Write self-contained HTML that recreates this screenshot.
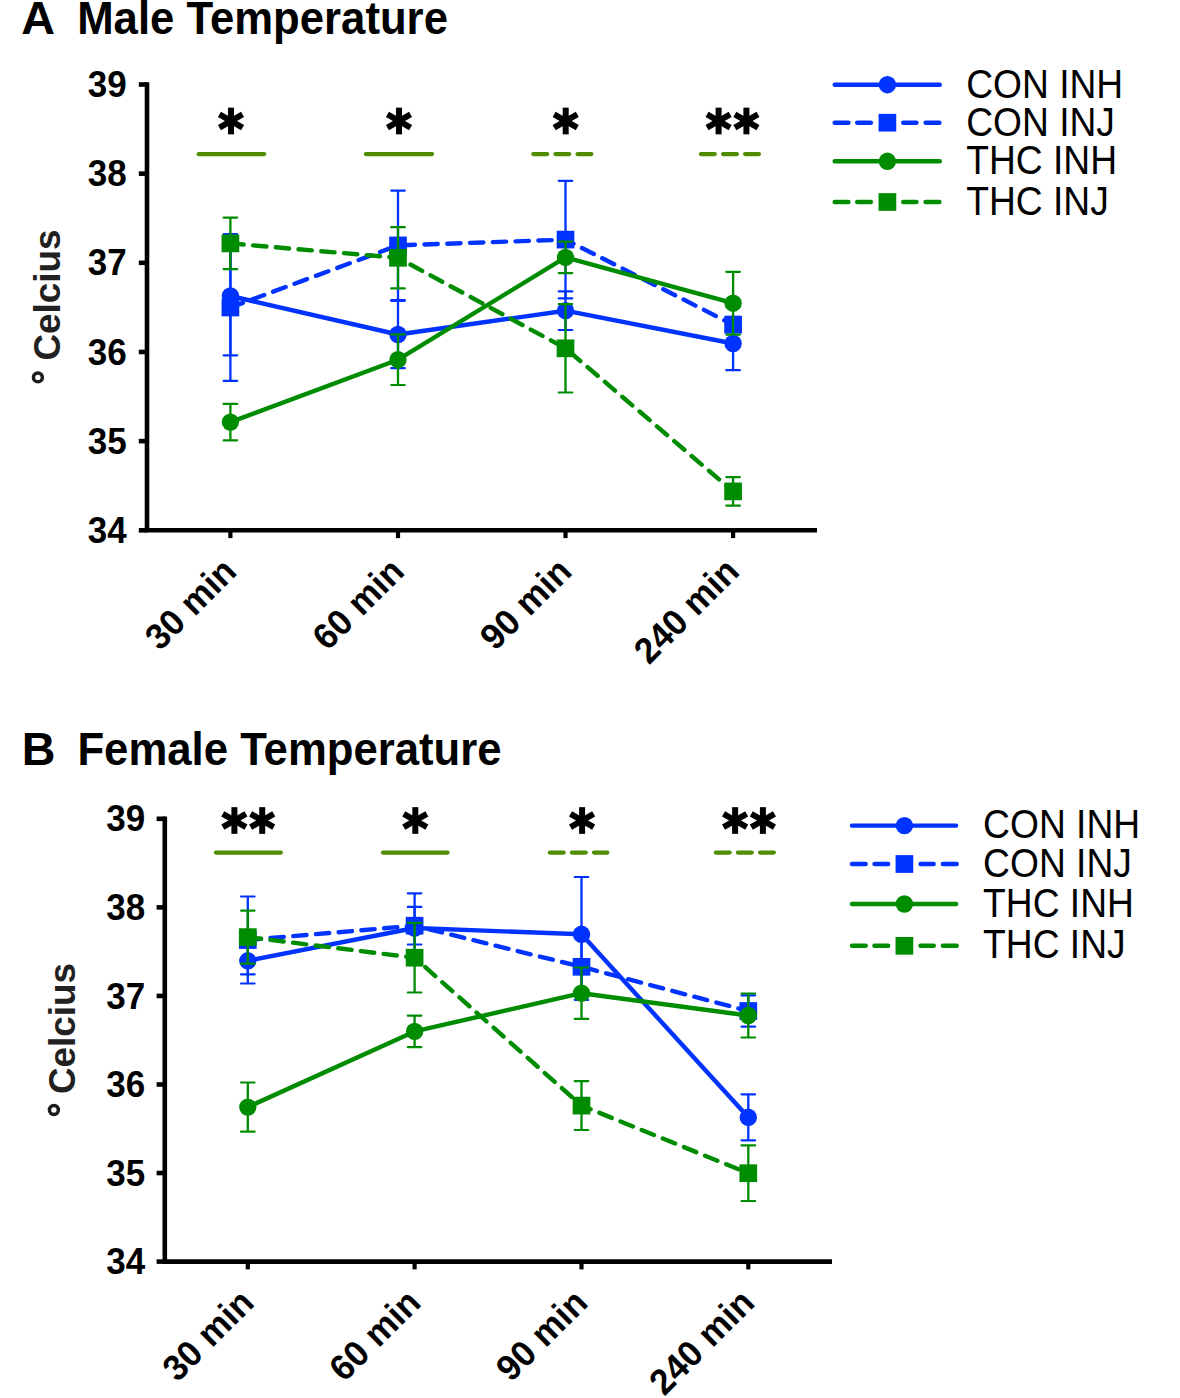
<!DOCTYPE html>
<html><head><meta charset="utf-8"><style>
html,body{margin:0;padding:0;background:#fff;}
svg{display:block;}
.title{font-family:"Liberation Sans",sans-serif;font-weight:bold;font-size:43.7px;fill:#000;}
.tick{font-family:"Liberation Sans",sans-serif;font-weight:bold;font-size:35px;fill:#000;}
.ylab{font-family:"Liberation Sans",sans-serif;font-weight:bold;font-size:37.5px;fill:#212121;}
.leg{font-family:"Liberation Sans",sans-serif;font-size:37.2px;fill:#000;}
</style></head><body>
<svg width="1180" height="1398" viewBox="0 0 1180 1398">
<rect width="1180" height="1398" fill="#fff"/>
<text class="title" transform="translate(21.2 33.9) scale(1.07 1.04)">A</text>
<text class="title" transform="translate(77.2 33.9) scale(1 1.04)">Male Temperature</text>
<g stroke="#000" stroke-width="4.6" fill="none">
<path d="M147 82.2V530.3H817"/>
<path d="M138.8 84.5H147"/>
<path d="M138.8 173.66H147"/>
<path d="M138.8 262.82H147"/>
<path d="M138.8 351.98H147"/>
<path d="M138.8 441.14H147"/>
<path d="M138.8 530.3H147"/>
<path d="M230.4 530.3V538.1" stroke-width="4.2"/>
<path d="M398 530.3V538.1" stroke-width="4.2"/>
<path d="M565.5 530.3V538.1" stroke-width="4.2"/>
<path d="M733.1 530.3V538.1" stroke-width="4.2"/>
</g>
<text class="tick" text-anchor="end" transform="translate(126.6 97.1) scale(1 1.03)">39</text>
<text class="tick" text-anchor="end" transform="translate(126.6 186.26) scale(1 1.03)">38</text>
<text class="tick" text-anchor="end" transform="translate(126.6 275.42) scale(1 1.03)">37</text>
<text class="tick" text-anchor="end" transform="translate(126.6 364.58) scale(1 1.03)">36</text>
<text class="tick" text-anchor="end" transform="translate(126.6 453.74) scale(1 1.03)">35</text>
<text class="tick" text-anchor="end" transform="translate(126.6 542.9) scale(1 1.03)">34</text>
<text class="tick" text-anchor="end" transform="translate(238.4 573.3) rotate(-45) scale(1 1.03)">30 min</text>
<text class="tick" text-anchor="end" transform="translate(406 573.3) rotate(-45) scale(1 1.03)">60 min</text>
<text class="tick" text-anchor="end" transform="translate(573.5 573.3) rotate(-45) scale(1 1.03)">90 min</text>
<text class="tick" text-anchor="end" transform="translate(741.1 573.3) rotate(-45) scale(1 1.03)">240 min</text>
<text class="ylab" text-anchor="middle" transform="translate(59.6 295.05) rotate(-90) scale(0.982 1)">Celcius</text>
<circle cx="37.9" cy="377.4" r="4.45" stroke="#1c1c1c" stroke-width="3.5" fill="none"/>
<g fill="#000"><polygon points="234,107.65 228,107.65 228,134.35 234,134.35"/><polygon points="244.06,116.92 241.06,111.73 217.94,125.08 220.94,130.27"/><polygon points="241.06,130.27 244.06,125.08 220.94,111.73 217.94,116.92"/></g>
<path d="M198.65 154.1H264.15" stroke="#4e8c00" stroke-width="4.3" stroke-linecap="round" fill="none"/>
<g fill="#000"><polygon points="402,107.65 396,107.65 396,134.35 402,134.35"/><polygon points="412.06,116.92 409.06,111.73 385.94,125.08 388.94,130.27"/><polygon points="409.06,130.27 412.06,125.08 388.94,111.73 385.94,116.92"/></g>
<path d="M365.95 154.1H432.05" stroke="#4e8c00" stroke-width="4.3" stroke-linecap="round" fill="none"/>
<g fill="#000"><polygon points="568.7,107.65 562.7,107.65 562.7,134.35 568.7,134.35"/><polygon points="578.76,116.92 575.76,111.73 552.64,125.08 555.64,130.27"/><polygon points="575.76,130.27 578.76,125.08 555.64,111.73 552.64,116.92"/></g>
<path d="M533.35 154.1H591.55" stroke="#4e8c00" stroke-width="4.3" stroke-linecap="round" stroke-dasharray="13.8 8.3" fill="none"/>
<g fill="#000"><polygon points="721.6,107.65 715.6,107.65 715.6,134.35 721.6,134.35"/><polygon points="731.66,116.92 728.66,111.73 705.54,125.08 708.54,130.27"/><polygon points="728.66,130.27 731.66,125.08 708.54,111.73 705.54,116.92"/><polygon points="749.4,107.65 743.4,107.65 743.4,134.35 749.4,134.35"/><polygon points="759.46,116.92 756.46,111.73 733.34,125.08 736.34,130.27"/><polygon points="756.46,130.27 759.46,125.08 736.34,111.73 733.34,116.92"/></g>
<path d="M700.95 154.1H759.15" stroke="#4e8c00" stroke-width="4.3" stroke-linecap="round" stroke-dasharray="13.8 8.3" fill="none"/>
<path d="M230.4 296L398 334.5" stroke="#0033ff" stroke-width="4.4" stroke-linecap="round" fill="none"/><path d="M398 334.5L565.5 310.7" stroke="#0033ff" stroke-width="4.4" stroke-linecap="round" fill="none"/><path d="M565.5 310.7L733.1 343.5" stroke="#0033ff" stroke-width="4.4" stroke-linecap="round" fill="none"/><path d="M230.4 236.7V355.3M398 300.8V368.2M565.5 291.4V330M733.1 316.8V370.2" stroke="#0033ff" stroke-width="2.3" fill="none"/><path d="M223.6 236.7H237.2M223.6 355.3H237.2M391.2 300.8H404.8M391.2 368.2H404.8M558.7 291.4H572.3M558.7 330H572.3M726.3 316.8H739.9M726.3 370.2H739.9" stroke="#0033ff" stroke-width="2.2" stroke-linecap="round" fill="none"/><circle cx="230.4" cy="296" r="8.7" fill="#0033ff"/><circle cx="398" cy="334.5" r="8.7" fill="#0033ff"/><circle cx="565.5" cy="310.7" r="8.7" fill="#0033ff"/><circle cx="733.1" cy="343.5" r="8.7" fill="#0033ff"/>
<path d="M230.4 307.5L398 245.4L565.5 239.6L733.1 324.7" stroke="#0033ff" stroke-width="4.4" stroke-linecap="round" stroke-linejoin="round" fill="none" stroke-dasharray="13.3 9.5"/><path d="M230.4 234.1V380.9M398 190.6V300.2M565.5 180.8V298.4M733.1 318.7V330.7" stroke="#0033ff" stroke-width="2.3" fill="none"/><path d="M223.6 234.1H237.2M223.6 380.9H237.2M391.2 190.6H404.8M391.2 300.2H404.8M558.7 180.8H572.3M558.7 298.4H572.3M726.3 318.7H739.9M726.3 330.7H739.9" stroke="#0033ff" stroke-width="2.2" stroke-linecap="round" fill="none"/><rect x="221.55" y="298.65" width="17.7" height="17.7" fill="#0033ff"/><rect x="389.15" y="236.55" width="17.7" height="17.7" fill="#0033ff"/><rect x="556.65" y="230.75" width="17.7" height="17.7" fill="#0033ff"/><rect x="724.25" y="315.85" width="17.7" height="17.7" fill="#0033ff"/>
<path d="M230.4 422.1L398 359.7" stroke="#008c00" stroke-width="4.4" stroke-linecap="round" fill="none"/><path d="M398 359.7L565.5 257.4" stroke="#008c00" stroke-width="4.4" stroke-linecap="round" fill="none"/><path d="M565.5 257.4L733.1 303.2" stroke="#008c00" stroke-width="4.4" stroke-linecap="round" fill="none"/><path d="M230.4 403.9V440.3M398 334.4V385M565.5 241.7V273.1M733.1 271.8V334.6" stroke="#008c00" stroke-width="2.3" fill="none"/><path d="M223.6 403.9H237.2M223.6 440.3H237.2M391.2 334.4H404.8M391.2 385H404.8M558.7 241.7H572.3M558.7 273.1H572.3M726.3 271.8H739.9M726.3 334.6H739.9" stroke="#008c00" stroke-width="2.2" stroke-linecap="round" fill="none"/><circle cx="230.4" cy="422.1" r="8.7" fill="#008c00"/><circle cx="398" cy="359.7" r="8.7" fill="#008c00"/><circle cx="565.5" cy="257.4" r="8.7" fill="#008c00"/><circle cx="733.1" cy="303.2" r="8.7" fill="#008c00"/>
<path d="M230.4 243.4L398 257.8L565.5 348.3L733.1 491.4" stroke="#008c00" stroke-width="4.4" stroke-linecap="round" stroke-linejoin="round" fill="none" stroke-dasharray="13.3 9.5"/><path d="M230.4 217.6V269.2M398 227.2V288.4M565.5 304.1V392.5M733.1 477.1V505.7" stroke="#008c00" stroke-width="2.3" fill="none"/><path d="M223.6 217.6H237.2M223.6 269.2H237.2M391.2 227.2H404.8M391.2 288.4H404.8M558.7 304.1H572.3M558.7 392.5H572.3M726.3 477.1H739.9M726.3 505.7H739.9" stroke="#008c00" stroke-width="2.2" stroke-linecap="round" fill="none"/><rect x="221.55" y="234.55" width="17.7" height="17.7" fill="#008c00"/><rect x="389.15" y="248.95" width="17.7" height="17.7" fill="#008c00"/><rect x="556.65" y="339.45" width="17.7" height="17.7" fill="#008c00"/><rect x="724.25" y="482.55" width="17.7" height="17.7" fill="#008c00"/>
<path d="M834.7 84.7H939.8" stroke="#0033ff" stroke-width="4.4" stroke-linecap="round"/>
<circle cx="887.4" cy="84.7" r="8.7" fill="#0033ff"/>
<text class="leg" transform="translate(966.2 97.8) scale(1 1.075)">CON INH</text>
<path d="M834.7 122.7H848.4" stroke="#0033ff" stroke-width="4.4" stroke-linecap="round"/>
<path d="M857.2 122.7H870.9" stroke="#0033ff" stroke-width="4.4" stroke-linecap="round"/>
<path d="M903.2 122.7H916.4" stroke="#0033ff" stroke-width="4.4" stroke-linecap="round"/>
<path d="M925.6 122.7H939.4" stroke="#0033ff" stroke-width="4.4" stroke-linecap="round"/>
<rect x="878.55" y="113.85" width="17.7" height="17.7" fill="#0033ff"/>
<text class="leg" transform="translate(966.2 135.6) scale(1 1.075)">CON INJ</text>
<path d="M834.7 161.3H939.8" stroke="#008c00" stroke-width="4.4" stroke-linecap="round"/>
<circle cx="887.4" cy="161.3" r="8.7" fill="#008c00"/>
<text class="leg" transform="translate(966.2 174.1) scale(1 1.075)">THC INH</text>
<path d="M834.7 202H848.4" stroke="#008c00" stroke-width="4.4" stroke-linecap="round"/>
<path d="M857.2 202H870.9" stroke="#008c00" stroke-width="4.4" stroke-linecap="round"/>
<path d="M903.2 202H916.4" stroke="#008c00" stroke-width="4.4" stroke-linecap="round"/>
<path d="M925.6 202H939.4" stroke="#008c00" stroke-width="4.4" stroke-linecap="round"/>
<rect x="878.55" y="193.15" width="17.7" height="17.7" fill="#008c00"/>
<text class="leg" transform="translate(966.2 214.6) scale(1 1.075)">THC INJ</text>
<text class="title" transform="translate(21.7 764.9) scale(1.07 1.04)">B</text>
<text class="title" transform="translate(77.4 764.9) scale(1 1.04)">Female Temperature</text>
<g stroke="#000" stroke-width="4.6" fill="none">
<path d="M164.8 816.5V1261.6H832"/>
<path d="M156.6 818.8H164.8"/>
<path d="M156.6 907.36H164.8"/>
<path d="M156.6 995.92H164.8"/>
<path d="M156.6 1084.48H164.8"/>
<path d="M156.6 1173.04H164.8"/>
<path d="M156.6 1261.6H164.8"/>
<path d="M247.8 1261.6V1269.4" stroke-width="4.2"/>
<path d="M414.6 1261.6V1269.4" stroke-width="4.2"/>
<path d="M581.5 1261.6V1269.4" stroke-width="4.2"/>
<path d="M748.3 1261.6V1269.4" stroke-width="4.2"/>
</g>
<text class="tick" text-anchor="end" transform="translate(145.1 831.4) scale(1 1.03)">39</text>
<text class="tick" text-anchor="end" transform="translate(145.1 919.96) scale(1 1.03)">38</text>
<text class="tick" text-anchor="end" transform="translate(145.1 1008.52) scale(1 1.03)">37</text>
<text class="tick" text-anchor="end" transform="translate(145.1 1097.08) scale(1 1.03)">36</text>
<text class="tick" text-anchor="end" transform="translate(145.1 1185.64) scale(1 1.03)">35</text>
<text class="tick" text-anchor="end" transform="translate(145.1 1274.2) scale(1 1.03)">34</text>
<text class="tick" text-anchor="end" transform="translate(255.8 1304.6) rotate(-45) scale(1 1.03)">30 min</text>
<text class="tick" text-anchor="end" transform="translate(422.6 1304.6) rotate(-45) scale(1 1.03)">60 min</text>
<text class="tick" text-anchor="end" transform="translate(589.5 1304.6) rotate(-45) scale(1 1.03)">90 min</text>
<text class="tick" text-anchor="end" transform="translate(756.3 1304.6) rotate(-45) scale(1 1.03)">240 min</text>
<text class="ylab" text-anchor="middle" transform="translate(75 1028.6) rotate(-90) scale(0.982 1)">Celcius</text>
<circle cx="53.9" cy="1110" r="4.45" stroke="#1c1c1c" stroke-width="3.5" fill="none"/>
<g fill="#000"><polygon points="237.4,807.15 231.4,807.15 231.4,833.85 237.4,833.85"/><polygon points="247.46,816.42 244.46,811.23 221.34,824.58 224.34,829.77"/><polygon points="244.46,829.77 247.46,824.58 224.34,811.23 221.34,816.42"/><polygon points="265.2,807.15 259.2,807.15 259.2,833.85 265.2,833.85"/><polygon points="275.26,816.42 272.26,811.23 249.14,824.58 252.14,829.77"/><polygon points="272.26,829.77 275.26,824.58 252.14,811.23 249.14,816.42"/></g>
<path d="M215.95 852.6H280.85" stroke="#4e8c00" stroke-width="4.3" stroke-linecap="round" fill="none"/>
<g fill="#000"><polygon points="418.3,807.15 412.3,807.15 412.3,833.85 418.3,833.85"/><polygon points="428.36,816.42 425.36,811.23 402.24,824.58 405.24,829.77"/><polygon points="425.36,829.77 428.36,824.58 405.24,811.23 402.24,816.42"/></g>
<path d="M383.05 852.6H447.45" stroke="#4e8c00" stroke-width="4.3" stroke-linecap="round" fill="none"/>
<g fill="#000"><polygon points="585.1,807.15 579.1,807.15 579.1,833.85 585.1,833.85"/><polygon points="595.16,816.42 592.16,811.23 569.04,824.58 572.04,829.77"/><polygon points="592.16,829.77 595.16,824.58 572.04,811.23 569.04,816.42"/></g>
<path d="M549.85 852.6H607.35" stroke="#4e8c00" stroke-width="4.3" stroke-linecap="round" stroke-dasharray="13.8 8.3" fill="none"/>
<g fill="#000"><polygon points="738.1,807.15 732.1,807.15 732.1,833.85 738.1,833.85"/><polygon points="748.16,816.42 745.16,811.23 722.04,824.58 725.04,829.77"/><polygon points="745.16,829.77 748.16,824.58 725.04,811.23 722.04,816.42"/><polygon points="765.9,807.15 759.9,807.15 759.9,833.85 765.9,833.85"/><polygon points="775.96,816.42 772.96,811.23 749.84,824.58 752.84,829.77"/><polygon points="772.96,829.77 775.96,824.58 752.84,811.23 749.84,816.42"/></g>
<path d="M715.85 852.6H773.95" stroke="#4e8c00" stroke-width="4.3" stroke-linecap="round" stroke-dasharray="13.8 8.3" fill="none"/>
<path d="M247.8 960.8L414.6 928" stroke="#0033ff" stroke-width="4.4" stroke-linecap="round" fill="none"/><path d="M414.6 928L581.5 934.3" stroke="#0033ff" stroke-width="4.4" stroke-linecap="round" fill="none"/><path d="M581.5 934.3L748.3 1117.3" stroke="#0033ff" stroke-width="4.4" stroke-linecap="round" fill="none"/><path d="M247.8 947.2V974.4M414.6 893.3V962.7M581.5 877V991.6M748.3 1094.3V1140.3" stroke="#0033ff" stroke-width="2.3" fill="none"/><path d="M241 947.2H254.6M241 974.4H254.6M407.8 893.3H421.4M407.8 962.7H421.4M574.7 877H588.3M574.7 991.6H588.3M741.5 1094.3H755.1M741.5 1140.3H755.1" stroke="#0033ff" stroke-width="2.2" stroke-linecap="round" fill="none"/><circle cx="247.8" cy="960.8" r="8.7" fill="#0033ff"/><circle cx="414.6" cy="928" r="8.7" fill="#0033ff"/><circle cx="581.5" cy="934.3" r="8.7" fill="#0033ff"/><circle cx="748.3" cy="1117.3" r="8.7" fill="#0033ff"/>
<path d="M247.8 940L414.6 925.7L581.5 966.8L748.3 1011" stroke="#0033ff" stroke-width="4.4" stroke-linecap="round" stroke-linejoin="round" fill="none" stroke-dasharray="13.3 9.5"/><path d="M247.8 896.5V983.5M414.6 906.9V944.5M581.5 933.8V999.8M748.3 995.3V1026.7" stroke="#0033ff" stroke-width="2.3" fill="none"/><path d="M241 896.5H254.6M241 983.5H254.6M407.8 906.9H421.4M407.8 944.5H421.4M574.7 933.8H588.3M574.7 999.8H588.3M741.5 995.3H755.1M741.5 1026.7H755.1" stroke="#0033ff" stroke-width="2.2" stroke-linecap="round" fill="none"/><rect x="238.95" y="931.15" width="17.7" height="17.7" fill="#0033ff"/><rect x="405.75" y="916.85" width="17.7" height="17.7" fill="#0033ff"/><rect x="572.65" y="957.95" width="17.7" height="17.7" fill="#0033ff"/><rect x="739.45" y="1002.15" width="17.7" height="17.7" fill="#0033ff"/>
<path d="M247.8 1107.1L414.6 1031.4" stroke="#008c00" stroke-width="4.4" stroke-linecap="round" fill="none"/><path d="M414.6 1031.4L581.5 993.2" stroke="#008c00" stroke-width="4.4" stroke-linecap="round" fill="none"/><path d="M581.5 993.2L748.3 1015.5" stroke="#008c00" stroke-width="4.4" stroke-linecap="round" fill="none"/><path d="M247.8 1082.5V1131.7M414.6 1015.7V1047.1M581.5 967.5V1018.9M748.3 993.5V1037.5" stroke="#008c00" stroke-width="2.3" fill="none"/><path d="M241 1082.5H254.6M241 1131.7H254.6M407.8 1015.7H421.4M407.8 1047.1H421.4M574.7 967.5H588.3M574.7 1018.9H588.3M741.5 993.5H755.1M741.5 1037.5H755.1" stroke="#008c00" stroke-width="2.2" stroke-linecap="round" fill="none"/><circle cx="247.8" cy="1107.1" r="8.7" fill="#008c00"/><circle cx="414.6" cy="1031.4" r="8.7" fill="#008c00"/><circle cx="581.5" cy="993.2" r="8.7" fill="#008c00"/><circle cx="748.3" cy="1015.5" r="8.7" fill="#008c00"/>
<path d="M247.8 937.1L414.6 957.7L581.5 1105.6L748.3 1173.2" stroke="#008c00" stroke-width="4.4" stroke-linecap="round" stroke-linejoin="round" fill="none" stroke-dasharray="13.3 9.5"/><path d="M247.8 910.6V963.6M414.6 922.9V992.5M581.5 1081.2V1130M748.3 1145.4V1201" stroke="#008c00" stroke-width="2.3" fill="none"/><path d="M241 910.6H254.6M241 963.6H254.6M407.8 922.9H421.4M407.8 992.5H421.4M574.7 1081.2H588.3M574.7 1130H588.3M741.5 1145.4H755.1M741.5 1201H755.1" stroke="#008c00" stroke-width="2.2" stroke-linecap="round" fill="none"/><rect x="238.95" y="928.25" width="17.7" height="17.7" fill="#008c00"/><rect x="405.75" y="948.85" width="17.7" height="17.7" fill="#008c00"/><rect x="572.65" y="1096.75" width="17.7" height="17.7" fill="#008c00"/><rect x="739.45" y="1164.35" width="17.7" height="17.7" fill="#008c00"/>
<path d="M852 825.6H956.1" stroke="#0033ff" stroke-width="4.4" stroke-linecap="round"/>
<circle cx="904.4" cy="825.6" r="8.7" fill="#0033ff"/>
<text class="leg" transform="translate(983.1 838.3) scale(1 1.075)">CON INH</text>
<path d="M852 864H865.7" stroke="#0033ff" stroke-width="4.4" stroke-linecap="round"/>
<path d="M874.5 864H888.2" stroke="#0033ff" stroke-width="4.4" stroke-linecap="round"/>
<path d="M920.5 864H933.7" stroke="#0033ff" stroke-width="4.4" stroke-linecap="round"/>
<path d="M942.9 864H956.7" stroke="#0033ff" stroke-width="4.4" stroke-linecap="round"/>
<rect x="895.55" y="855.15" width="17.7" height="17.7" fill="#0033ff"/>
<text class="leg" transform="translate(983.1 877.3) scale(1 1.075)">CON INJ</text>
<path d="M852 904H956.1" stroke="#008c00" stroke-width="4.4" stroke-linecap="round"/>
<circle cx="904.4" cy="904" r="8.7" fill="#008c00"/>
<text class="leg" transform="translate(983.1 916.9) scale(1 1.075)">THC INH</text>
<path d="M852 945.8H865.7" stroke="#008c00" stroke-width="4.4" stroke-linecap="round"/>
<path d="M874.5 945.8H888.2" stroke="#008c00" stroke-width="4.4" stroke-linecap="round"/>
<path d="M920.5 945.8H933.7" stroke="#008c00" stroke-width="4.4" stroke-linecap="round"/>
<path d="M942.9 945.8H956.7" stroke="#008c00" stroke-width="4.4" stroke-linecap="round"/>
<rect x="895.55" y="936.95" width="17.7" height="17.7" fill="#008c00"/>
<text class="leg" transform="translate(983.1 958.1) scale(1 1.075)">THC INJ</text>
</svg>
</body></html>
